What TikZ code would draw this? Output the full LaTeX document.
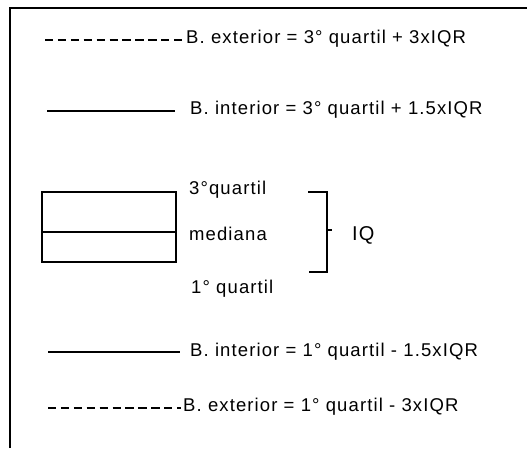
\documentclass[tikz,border=0pt]{standalone}
\usepackage{fontspec}
\setmainfont{Liberation Sans}[LetterSpace=6]
\begin{document}
\begin{tikzpicture}[x=1pt,y=-1pt,
  lbl/.style={font=\fontsize{18.5}{21}\selectfont, inner sep=0pt, anchor=base west},
  solidline/.style={line width=1.3pt},
  dashline/.style={line width=1.6pt, dash pattern=on 8.3pt off 4.6pt},
  frameline/.style={line width=2pt}]
\useasboundingbox (0,0) rectangle (527,448);
% frame
\coordinate (fb) at (10,448);
\coordinate (fc) at (10,8);
\coordinate (fr) at (527,8);
\draw[frameline] (fb) -- (fc) -- (fr);
% upper exterior fence
\node[lbl] (t1) at (186,43.5) {B. exterior = 3° quartil + 3xIQR};
\coordinate (d1a) at (45,40);
\coordinate (d1b) at (182,40);
\draw[dashline] (d1a) -- (d1b);
% upper interior fence
\node[lbl] (t2) at (190,114.5) {B. interior = 3° quartil + 1.5xIQR};
\coordinate (s2a) at (47,111);
\coordinate (s2b) at (175,111);
\draw[solidline] (s2a) -- (s2b);
% box
\node[draw, solidline, minimum width=134pt, minimum height=70pt, inner sep=0pt] (box) at (109,227) {};
\coordinate (ml) at (42,232);
\coordinate (mr) at (176,232);
\draw[solidline] (ml) -- (mr);
\node[lbl] (q3) at (189,194) {3°quartil};
\node[lbl] (med) at (189,240) {mediana};
\node[lbl] (q1) at (191,293) {1° quartil};
% bracket
\coordinate (b1) at (308,192);
\coordinate (b2) at (327,192);
\coordinate (b3) at (327,272);
\coordinate (b4) at (309,272);
\coordinate (bm) at (327,230);
\coordinate (bt) at (332,230);
\draw[solidline] (b1) -- (b2) -- (b3) -- (b4);
\draw[solidline] (bm) -- (bt);
\node[lbl, font=\fontsize{20}{22}\selectfont] (iq) at (352,240.5) {IQ};
% lower interior fence
\node[lbl] (t4) at (190,356) {B. interior = 1° quartil - 1.5xIQR};
\coordinate (s4a) at (48,352);
\coordinate (s4b) at (180,352);
\draw[solidline] (s4a) -- (s4b);
% lower exterior fence
\node[lbl] (t5) at (183,411.5) {B. exterior = 1° quartil - 3xIQR};
\coordinate (d5a) at (48,408);
\coordinate (d5b) at (181,408);
\draw[dashline] (d5a) -- (d5b);
\end{tikzpicture}
\end{document}
